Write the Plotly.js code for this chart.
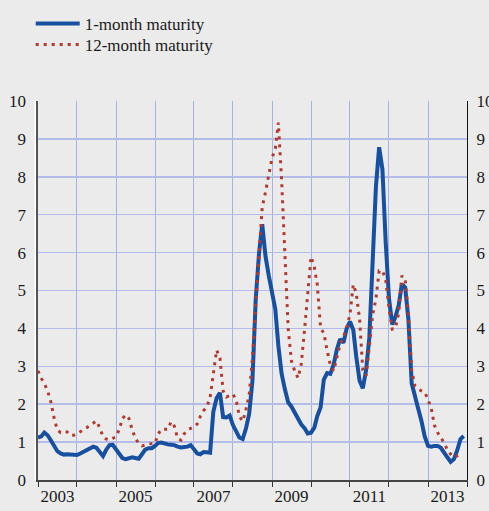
<!DOCTYPE html>
<html>
<head>
<meta charset="utf-8">
<script src="https://cdn.plot.ly/plotly-3.0.1.min.js"></script>
<style>html,body{margin:0;padding:0;background:#ebebeb;}#chart{width:489px;height:511px;}</style>
</head>
<body>
<div id="chart"></div>
<script>
// Monthly series starting January 2003
const startYear = 2003;
const seriesNames = ["1-month maturity", "12-month maturity"];
const oneMonth = [
  1.12,1.15,1.25,1.18,1.05,0.90,0.76,0.70,0.67,0.68,0.68,0.67,
  0.66,0.70,0.75,0.80,0.84,0.88,0.85,0.75,0.63,0.80,0.92,0.93,
  0.80,0.66,0.58,0.55,0.58,0.60,0.58,0.56,0.68,0.80,0.84,0.84,
  0.90,0.98,0.99,0.95,0.94,0.93,0.92,0.88,0.86,0.87,0.88,0.92,
  0.80,0.70,0.68,0.74,0.73,0.72,1.80,2.16,2.30,1.66,1.65,1.70,
  1.45,1.25,1.12,1.08,1.35,1.75,2.60,4.75,5.98,6.75,5.90,5.40,
  4.90,4.50,3.55,2.80,2.40,2.05,1.94,1.77,1.62,1.47,1.37,1.23,
  1.25,1.38,1.69,1.92,2.65,2.82,2.80,3.05,3.45,3.72,3.62,4.00,
  4.18,3.96,3.25,2.62,2.42,2.90,3.75,5.80,7.74,8.78,8.20,6.30,
  4.80,4.10,4.30,4.60,5.17,5.08,4.25,2.55,2.15,1.88,1.55,1.15,
  0.90,0.88,0.90,0.90,0.85,0.74,0.60,0.48,0.55,0.78,1.08,1.16
];
const twelveMonth = [
  2.88,2.68,2.55,2.35,2.07,1.63,1.32,1.25,1.28,1.27,1.18,1.18,
  1.22,1.27,1.32,1.38,1.44,1.50,1.56,1.38,1.15,1.08,1.06,1.10,
  1.14,1.34,1.62,1.72,1.63,1.33,1.10,0.97,0.90,0.92,0.95,0.96,
  0.97,1.22,1.34,1.34,1.34,1.54,1.42,1.10,1.05,1.22,1.32,1.36,
  1.40,1.48,1.68,1.83,1.93,2.18,2.85,3.43,3.22,2.35,2.19,2.24,
  2.27,2.10,1.68,1.55,1.85,2.25,3.20,4.60,6.05,7.20,7.60,8.10,
  8.50,8.75,9.43,7.90,6.16,4.00,3.15,2.88,2.69,3.05,3.95,4.92,
  5.89,5.62,5.15,4.00,3.88,3.42,3.03,2.88,3.28,3.58,3.78,4.00,
  4.38,5.16,4.92,4.25,2.90,2.75,3.50,4.35,4.78,5.52,5.52,5.30,
  4.55,3.98,4.00,4.40,5.39,5.30,4.40,2.90,2.48,2.40,2.35,2.32,
  2.12,1.88,1.45,1.25,1.12,0.98,0.80,0.68,0.60,0.63,0.68
];
const yearLabels = ["2003","2005","2007","2009","2011","2013"];
const yTicks = [0,1,2,3,4,5,6,7,8,9,10];

function monthDates(n){
  const out=[];
  for(let i=0;i<n;i++){
    const y=startYear+Math.floor(i/12), m=(i%12)+1;
    out.push(y+"-"+String(m).padStart(2,"0")+"-01");
  }
  return out;
}
const yearStarts=[]; for(let y=2003;y<=2014;y++) yearStarts.push(y+"-01-01");
const labelPos = yearLabels.map(y=>y+"-07-02");

const font = {family:"Times New Roman, Liberation Serif, serif", size:17, color:"#1a1a1a"};
const xr = ["2003-01-01","2014-01-01"];

const traces = [
  {x:monthDates(oneMonth.length), y:oneMonth, name:seriesNames[0], type:"scatter", mode:"lines",
   line:{color:"#1750a0", width:4}, xaxis:"x", yaxis:"y", legend:"legend"},
  {x:monthDates(twelveMonth.length), y:twelveMonth, name:seriesNames[1], type:"scatter", mode:"lines",
   line:{color:"#b23a2e", width:3, dash:"3px,5px"}, xaxis:"x2", yaxis:"y2", legend:"legend2"}
];

const legendBase = {x:-0.017, xanchor:"left", yanchor:"top", bgcolor:"rgba(0,0,0,0)", font:font, itemwidth:44};

const layout = {
  width:489, height:511,
  margin:{l:38, r:22, t:101, b:31, autoexpand:false},
  paper_bgcolor:"#ebebeb", plot_bgcolor:"#ebebeb",
  font:font,
  showlegend:true,
  legend:Object.assign({}, legendBase, {y:1.2506}),
  legend2:Object.assign({}, legendBase, {y:1.1953}),
  xaxis:{type:"date", range:xr, tickvals:yearStarts, ticktext:yearStarts.map(()=>""),
         showgrid:true, gridcolor:"#a4b2e6", gridwidth:1, ticks:"outside", ticklen:5,
         tickcolor:"#333", showline:true, linecolor:"#444", linewidth:1.5, zeroline:false, fixedrange:true},
  xaxis2:{type:"date", range:xr, overlaying:"x", side:"bottom", tickvals:labelPos, ticktext:yearLabels,
          showgrid:false, ticks:"", showline:false, zeroline:false, tickfont:font, ticklabelstandoff:4},
  yaxis:{range:[0,10], tickvals:yTicks, showgrid:true, gridcolor:"#b3bde8", gridwidth:1.5,
         showline:true, linecolor:"#555", linewidth:2.5, ticks:"", zeroline:false,
         tickfont:font, ticklabelstandoff:6},
  yaxis2:{range:[0,10], tickvals:yTicks, overlaying:"y", side:"right", showgrid:false,
          showline:true, linecolor:"#111", linewidth:1, ticks:"", zeroline:false,
          tickfont:font, ticklabelstandoff:5},
  shapes:[
    {type:"line", xref:"paper", yref:"paper", xsizemode:"pixel", xanchor:0, x0:-2.8, x1:-2.8, y0:0, y1:1,
     line:{color:"#ffffff", width:1.5}}
  ]
};

Plotly.newPlot("chart", traces, layout, {displayModeBar:false, staticPlot:true});
</script>
</body>
</html>
